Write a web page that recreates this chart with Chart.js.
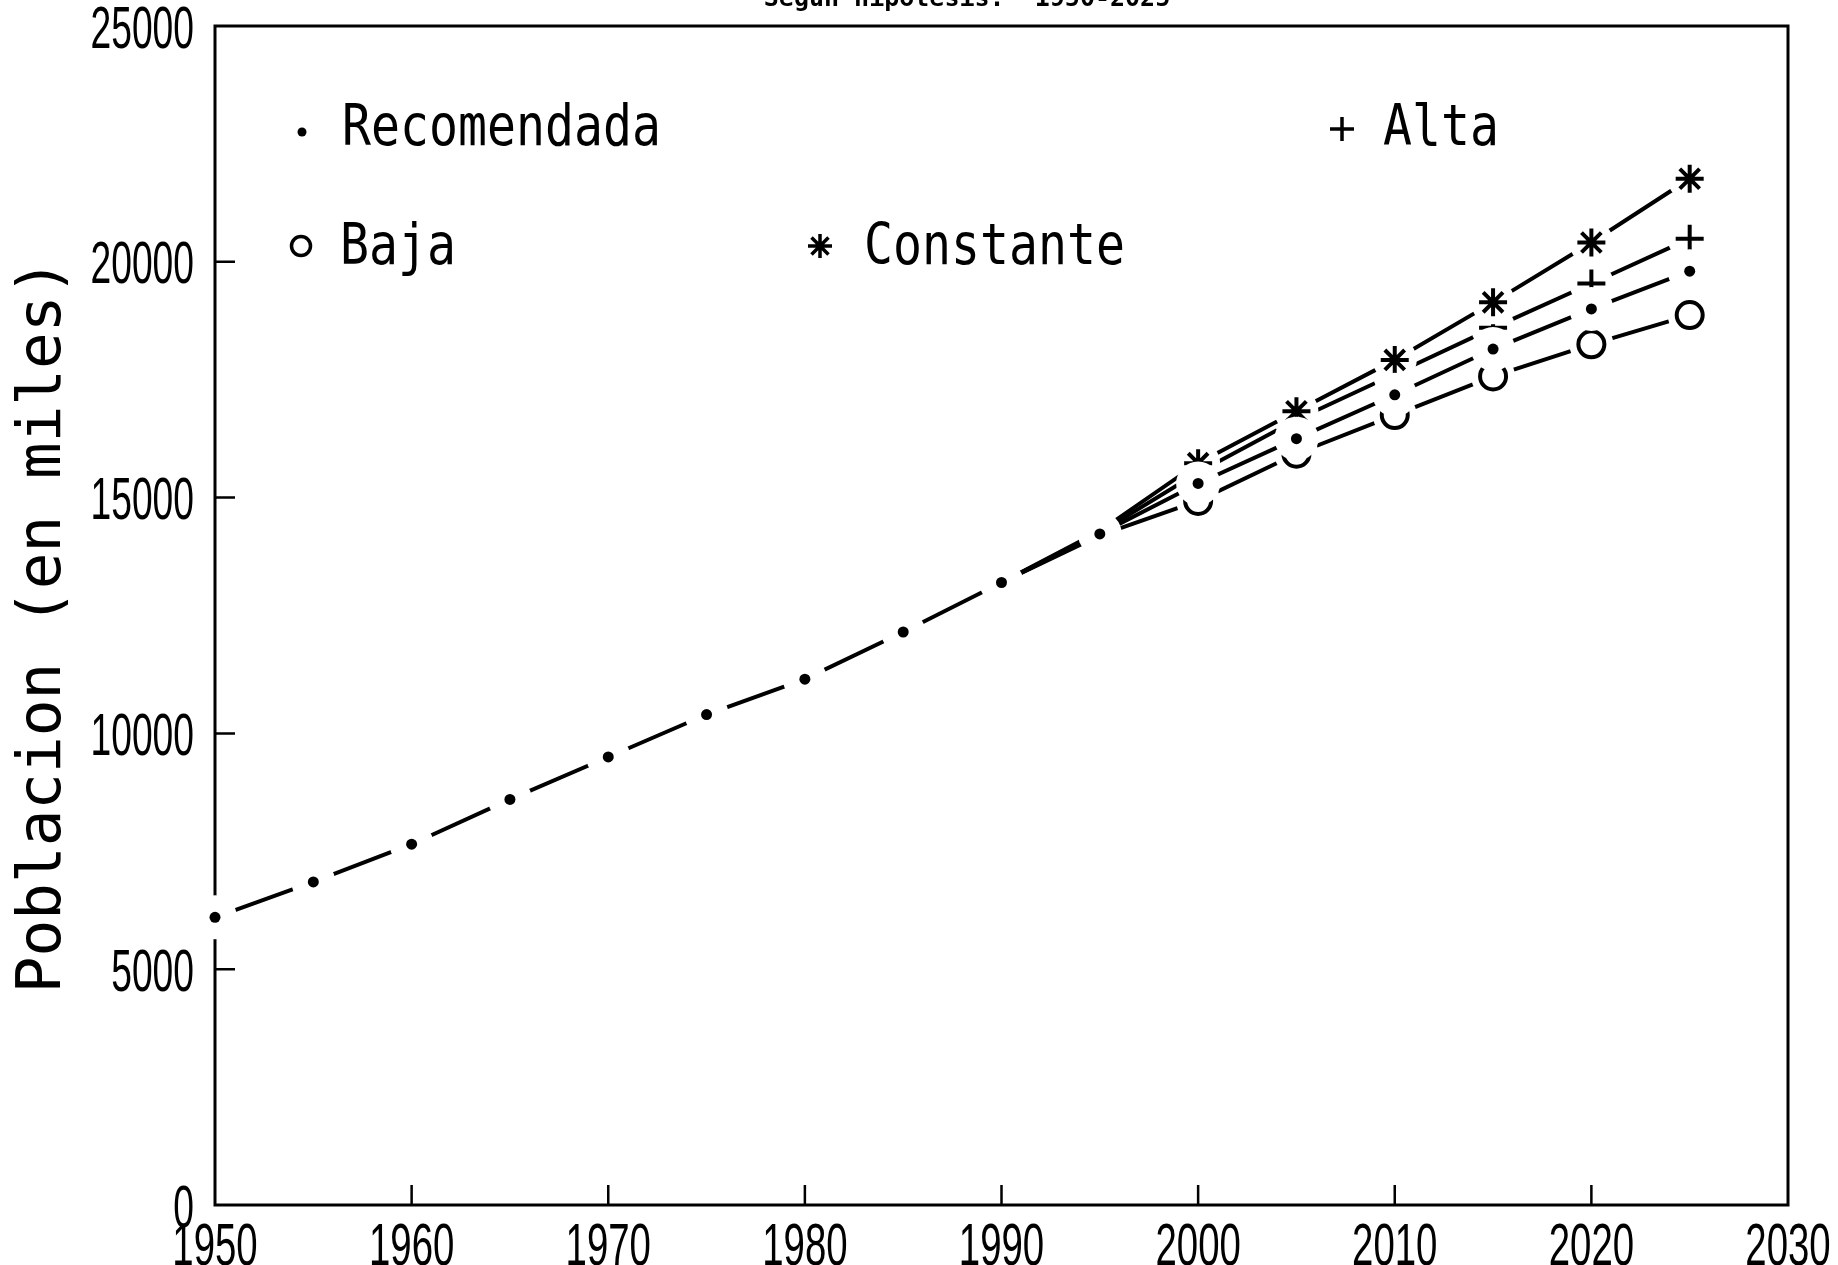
<!DOCTYPE html>
<html>
<head>
<meta charset="utf-8">
<script src="https://cdn.jsdelivr.net/npm/chart.js@4.4.1/dist/chart.umd.min.js"></script>
<style>
  html, body { margin: 0; padding: 0; background: #fff; }
  #wrap { width: 1838px; height: 1265px; position: relative; overflow: hidden; }
</style>
</head>
<body>
<div id="wrap"><canvas id="c" width="1838" height="1265"></canvas></div>
<script>
// Population (thousands) by projection hypothesis, every five years
const years       = [1950, 1955, 1960, 1965, 1970, 1975, 1980, 1985, 1990, 1995, 2000, 2005, 2010, 2015, 2020, 2025];
const recomendada = [6100, 6850, 7650, 8600, 9500, 10400, 11150, 12150, 13200, 14230, 15300, 16250, 17180, 18150, 19000, 19800];
const baja        = [null, null, null, null, null, null, null, null, 13200, 14200, 14930, 15930, 16750, 17570, 18250, 18870];
const alta        = [null, null, null, null, null, null, null, null, 13200, 14260, 15530, 16650, 17620, 18600, 19540, 20490];
const constante   = [null, null, null, null, null, null, null, null, 13200, 14290, 15730, 16830, 17920, 19140, 20410, 21760];

// Axis ticks and labels
const xTicks = [1950, 1960, 1970, 1980, 1990, 2000, 2010, 2020, 2030];
const yTicks = [0, 5000, 10000, 15000, 20000, 25000];
const yTitle = 'Poblacion (en miles)';
const headTitle = 'Segun hipotesis:  1950-2025';

// Legend entries
const legendNames = ['Recomendada', 'Alta', 'Baja', 'Constante'];

const markerFrom = 2000;   // projected series carry markers from this year on

const toPoints = arr => years.map((x, i) => ({ x, y: arr[i] })).filter(p => p.y !== null);
const toMarkers = (arr, from) => toPoints(arr).filter(p => p.x >= from);

const INK = '#000';
const LW = 4;
const HALO = 22;

// Each series: its line, a white clearing ring around each marker, then the marker itself
function seriesSets(arr, from, marker, rank) {
  const base = rank * 3;
  return [
    { data: toPoints(arr), borderColor: INK, borderWidth: LW, pointRadius: 0, tension: 0,
      fill: false, clip: false, order: base + 3 },
    { data: toMarkers(arr, from), showLine: false, pointStyle: 'circle', pointRadius: HALO,
      pointBackgroundColor: '#fff', pointBorderWidth: 0, clip: false, order: base + 2 },
    Object.assign({ data: toMarkers(arr, from), showLine: false, clip: false, order: base + 1 }, marker)
  ];
}

const datasets = [
  ...seriesSets(baja, markerFrom, { pointStyle: 'circle', pointRadius: 13, pointBorderWidth: LW,
      pointBackgroundColor: '#fff', pointBorderColor: INK }, 3),
  ...seriesSets(alta, markerFrom, { pointStyle: 'cross', pointRadius: 14, pointBorderWidth: LW,
      pointBorderColor: INK, pointBackgroundColor: INK }, 2),
  ...seriesSets(constante, markerFrom, { pointStyle: 'star', pointRadius: 14, pointBorderWidth: LW,
      pointBorderColor: INK, pointBackgroundColor: INK }, 1),
  ...seriesSets(recomendada, years[0], { pointStyle: 'circle', pointRadius: 5.5, pointBorderWidth: 0,
      pointBackgroundColor: INK }, 0)
];

// Text squeezed horizontally by sx around its anchor point
function drawScaled(ctx, str, x, y, font, sx, align) {
  ctx.save();
  ctx.translate(x, y);
  ctx.scale(sx, 1);
  ctx.font = font;
  ctx.textAlign = align;
  ctx.textBaseline = 'alphabetic';
  ctx.fillStyle = INK;
  ctx.fillText(str, 0, 0);
  ctx.restore();
}

// Box frame with inward tick marks
const framePlugin = {
  id: 'frame',
  beforeDatasetsDraw(chart) {
    const { ctx, chartArea: a, scales } = chart;
    ctx.save();
    ctx.strokeStyle = INK;
    ctx.lineWidth = 3;
    ctx.strokeRect(a.left, a.top, a.right - a.left, a.bottom - a.top);
    ctx.lineWidth = 2.5;
    ctx.beginPath();
    xTicks.slice(1, -1).forEach(v => {
      const px = scales.x.getPixelForValue(v);
      ctx.moveTo(px, a.bottom); ctx.lineTo(px, a.bottom - 20);
    });
    yTicks.slice(1, -1).forEach(v => {
      const py = scales.y.getPixelForValue(v);
      ctx.moveTo(a.left, py); ctx.lineTo(a.left + 20, py);
    });
    ctx.stroke();
    ctx.restore();
  }
};

// Tick labels, axis title, header and in-plot legend
const textPlugin = {
  id: 'plotText',
  afterDraw(chart) {
    const { ctx, scales } = chart;
    const digitFont = '60px "Liberation Sans", "DejaVu Sans", sans-serif';
    xTicks.forEach(v => {
      drawScaled(ctx, String(v), scales.x.getPixelForValue(v), 1265, digitFont, 0.64, 'center');
    });
    yTicks.forEach(v => {
      drawScaled(ctx, String(v), 194, scales.y.getPixelForValue(v) + 21.5, digitFont, 0.62, 'right');
    });

    // rotated axis title
    ctx.save();
    ctx.translate(60, 626);
    ctx.rotate(-Math.PI / 2);
    ctx.font = '61px "DejaVu Sans Mono"';
    ctx.textAlign = 'center';
    ctx.textBaseline = 'alphabetic';
    ctx.fillStyle = INK;
    ctx.fillText(yTitle, 0, 0);
    ctx.restore();

    // header line, mostly above the page edge
    drawScaled(ctx, headTitle, 967, 6, 'bold 25px "DejaVu Sans Mono"', 1, 'center');

    // legend
    const lf = '57px "DejaVu Sans Mono"';
    const entries = [
      { name: legendNames[0], mx: 302, my: 132, tx: 342, ty: 145, style: 'circle', r: 4.5, bw: 0, fill: INK },
      { name: legendNames[1], mx: 1342, my: 129, tx: 1383, ty: 145, style: 'cross', r: 12, bw: 3.5, fill: INK },
      { name: legendNames[2], mx: 301, my: 246, tx: 340, ty: 264, style: 'circle', r: 9.5, bw: 3.5, fill: '#fff' },
      { name: legendNames[3], mx: 820, my: 246, tx: 864, ty: 264, style: 'star', r: 12, bw: 3.5, fill: INK }
    ];
    entries.forEach(e => {
      ctx.save();
      ctx.fillStyle = e.fill;
      ctx.strokeStyle = INK;
      ctx.lineWidth = e.bw;
      Chart.helpers.drawPoint(ctx, { pointStyle: e.style, radius: e.r, borderWidth: e.bw, rotation: 0 }, e.mx, e.my);
      ctx.restore();
      drawScaled(ctx, e.name, e.tx, e.ty, lf, 0.845, 'left');
    });
  }
};

new Chart(document.getElementById('c'), {
  type: 'line',
  data: { datasets },
  options: {
    responsive: false,
    devicePixelRatio: 1,
    animation: false,
    events: [],
    layout: { padding: { left: 215, top: 26, right: 50, bottom: 60 } },
    plugins: { legend: { display: false }, tooltip: { enabled: false }, title: { display: false } },
    scales: {
      x: { type: 'linear', min: 1950, max: 2030,
           ticks: { display: false, stepSize: 10 },
           grid: { display: false, drawTicks: false }, border: { display: false } },
      y: { type: 'linear', min: 0, max: 25000,
           ticks: { display: false, stepSize: 5000 },
           grid: { display: false, drawTicks: false }, border: { display: false } }
    }
  },
  plugins: [framePlugin, textPlugin]
});
</script>
</body>
</html>
